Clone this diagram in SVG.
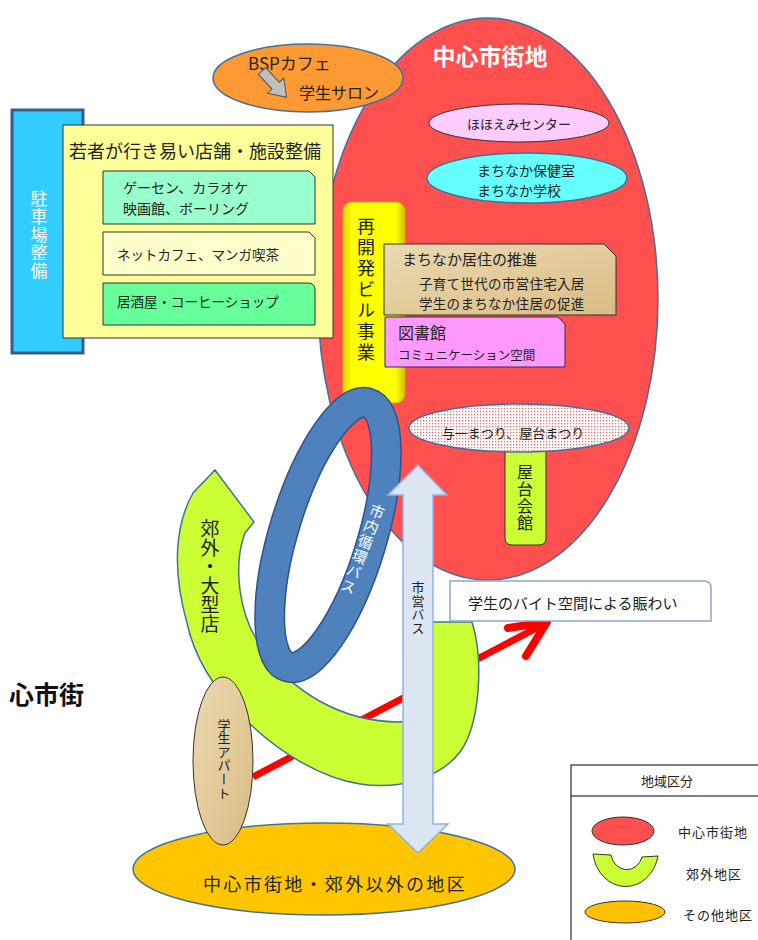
<svg xmlns="http://www.w3.org/2000/svg" width="758" height="940" viewBox="0 0 758 940">
<defs>
<style>
text{font-family:"Noto Sans CJK JP","Noto Sans",sans-serif;fill:#222;dominant-baseline:central}
.ol{stroke:#41719C;stroke-width:1.5}
.dk{stroke:#333;stroke-width:1}
.v{writing-mode:vertical-rl;text-anchor:middle}
.c{text-anchor:middle}
</style>
<pattern id="dots" width="3" height="3" patternUnits="userSpaceOnUse"><rect width="3" height="3" fill="#fff"/><rect width="1.3" height="1.3" fill="#F07070"/></pattern>
<linearGradient id="tan" x1="0" y1="0" x2="1" y2="1"><stop offset="0" stop-color="#EBD9B2"/><stop offset="0.5" stop-color="#E3CB9A"/><stop offset="1" stop-color="#D8BB86"/></linearGradient>
<linearGradient id="yel" x1="0" x2="1"><stop offset="0" stop-color="#E0D400"/><stop offset="0.15" stop-color="#FFFF00"/><stop offset="0.85" stop-color="#FFFF00"/><stop offset="1" stop-color="#CFC000"/></linearGradient>
</defs>

<g id="central-area">
<ellipse cx="488" cy="299" rx="170" ry="281" fill="#FF5050" class="ol"/>
<text x="490" y="55" class="c" style="fill:#fff;font-size:23px;font-weight:bold">中心市街地</text>
</g>

<g id="bsp-cafe">
<ellipse cx="308" cy="78" rx="95" ry="34" fill="#FF9933" class="ol"/>
<text x="248" y="62" style="font-size:17px">BSPカフェ</text>
<path d="M0,-5 L20,-5 L20,-11 L36,0 L20,11 L20,5 L0,5 Z" transform="translate(262,71) rotate(47)" fill="#BFBFBF" stroke="#555" stroke-width="1"/>
<text x="299" y="92" style="font-size:16px">学生サロン</text>
</g>

<g id="parking">
<rect x="12" y="110" width="71" height="243" fill="#33CCFF" stroke="#385D8A" stroke-width="3"/>
<text x="39" y="235" class="v" style="fill:#fff;font-size:17px;letter-spacing:1px">駐車場整備</text>
</g>

<g id="shops">
<rect x="63" y="125" width="270" height="213" fill="#FFFF99" class="dk"/>
<text x="69" y="150" style="font-size:18px">若者が行き易い店舗・施設整備</text>
<path d="M103 171 H309 L315 177 V224 H103 Z" fill="#99FFCC" class="dk"/>
<text x="123" y="187" style="font-size:14px">ゲーセン、カラオケ</text>
<text x="123" y="208" style="font-size:14px">映画館、ボーリング</text>
<path d="M103 232 H309 L315 238 V275 H103 Z" fill="#FFFFCC" class="dk"/>
<text x="117" y="254" style="font-size:13.5px">ネットカフェ、マンガ喫茶</text>
<path d="M103 283 H308 Q315 283 315 290 V325 H103 Z" fill="#66FF99" class="dk"/>
<text x="117" y="301" style="font-size:13.5px">居酒屋・コーヒーショップ</text>
</g>

<g id="hohoemi">
<ellipse cx="519" cy="123" rx="90" ry="19" fill="#FFCCFF" class="dk"/>
<text x="519" y="123" class="c" style="font-size:13px">ほほえみセンター</text>
</g>

<g id="machinaka-school">
<ellipse cx="527" cy="178" rx="100" ry="25" fill="#66FFFF" class="ol"/>
<text x="477" y="170" style="font-size:14px">まちなか保健室</text>
<text x="477" y="190" style="font-size:14px">まちなか学校</text>
</g>

<g id="redevelopment">
<rect x="343" y="202" width="62" height="201" rx="9" fill="url(#yel)" stroke="#C8B400" stroke-width="1"/>
<text x="366" y="291" class="v" style="font-size:18px;letter-spacing:3px">再開発ビル事業</text>
</g>

<g id="residence">
<path d="M384 244 H604 L616 256 V315 H384 Z" fill="url(#tan)" class="dk"/>
<text x="402" y="258" style="font-size:15px">まちなか居住の推進</text>
<text x="419" y="283" style="font-size:13.5px;letter-spacing:0.3px">子育て世代の市営住宅入居</text>
<text x="419" y="303" style="font-size:13.5px;letter-spacing:0.3px">学生のまちなか住居の促進</text>
</g>

<g id="library">
<path d="M385 317 H558 L565 324 V367 H385 Z" fill="#FF99FF" class="dk"/>
<text x="398" y="332" style="font-size:16px">図書館</text>
<text x="398" y="354" style="font-size:12.5px">コミュニケーション空間</text>
</g>

<g id="yatai-kaikan">
<path d="M505 440 H546 V538 Q546 545 539 545 H512 Q505 545 505 538 Z" fill="#CCFF33" class="dk"/>
<text x="525" y="498" class="v" style="font-size:16px;letter-spacing:1px">屋台会館</text>
</g>

<g id="festival">
<ellipse cx="519" cy="428" rx="110" ry="24" fill="url(#dots)" class="ol"/>
<text x="513" y="432" class="c" style="font-size:13px">与一まつり、屋台まつり</text>
</g>

<g id="connectors">
<line x1="253" y1="777" x2="544" y2="624" stroke="#FF0000" stroke-width="7"/>
<polyline points="508,628 547,622 526,656" fill="none" stroke="#FF0000" stroke-width="8" stroke-linecap="round" stroke-linejoin="round"/>
</g>

<g id="suburb">
<path d="M 215 470 L 254 522 L 245 533 C 233 565 238 615 262 648 C 290 690 340 722 400 722 C 415 722 425 690 425 622 L 472 622 C 484 660 480 725 460 752 C 440 778 400 790 360 784 C 320 778 275 750 243 717 C 215 690 195 660 187 623 C 172 570 175 525 193 493 Z" fill="#CCFF33" class="ol"/>
<text x="210" y="576" class="v" style="font-size:19px">郊外・大型店</text>
</g>

<g id="loop-bus">
<ellipse cx="328" cy="535" rx="44" ry="138" transform="rotate(17 328 535)" fill="none" stroke="#2F528F" stroke-width="31"/>
<ellipse cx="328" cy="535" rx="44" ry="138" transform="rotate(17 328 535)" fill="none" stroke="#4F81BD" stroke-width="28"/>
<g transform="translate(362.5,549.5) rotate(21)">
<text x="0" y="0" class="v" style="fill:#fff;font-size:15px;letter-spacing:1px">市内循環バス</text>
</g>
</g>

<g id="other-area">
<ellipse cx="324" cy="869" rx="191" ry="46" fill="#FFC600" class="ol"/>
<text x="335" y="883" class="c" style="font-size:18px;letter-spacing:2.3px">中心市街地・郊外以外の地区</text>
</g>

<g id="student-apartment">
<ellipse cx="223" cy="761" rx="30" ry="84" fill="url(#tan)" class="dk"/>
<text x="224" y="759" class="v" style="font-size:13px;letter-spacing:0.6px">学生アパート</text>
</g>

<g id="city-bus">
<path d="M 418 465 L 447 495 L 433 495 L 433 824 L 448 824 L 418 853 L 388 824 L 403 824 L 403 495 L 388 495 Z" fill="#DCE6F2" stroke="#8EB4E3" stroke-width="1.5"/>
<text x="418" y="608" class="v" style="font-size:13px;letter-spacing:0.7px">市営バス</text>
</g>

<g id="student-job">
<path d="M450 581 H704 Q711 581 711 588 V621 H450 Z" fill="#fff" stroke="#8EA7C8" stroke-width="1.5"/>
<text x="468" y="602" style="font-size:15px">学生のバイト空間による賑わい</text>
</g>

<g id="cut-label">
<text x="9" y="693" style="font-size:25px;font-weight:bold;fill:#111">心市街</text>
</g>

<g id="legend">
<rect x="571" y="765" width="200" height="190" fill="#fff" stroke="#000" stroke-width="1"/>
<line x1="571" y1="796" x2="758" y2="796" stroke="#000" stroke-width="1"/>
<text x="667" y="780" class="c" style="font-size:13px">地域区分</text>
<ellipse cx="623" cy="831" rx="31" ry="14" fill="#FF5050" class="dk"/>
<text x="678" y="831" style="font-size:13px;letter-spacing:1px">中心市街地</text>
<path d="M 593 854 A 33 38 0 0 0 658 856 L 642 857 A 16 18 0 0 1 611 855 Z" fill="#CCFF33" class="dk"/>
<text x="686" y="873" style="font-size:13px;letter-spacing:1px">郊外地区</text>
<ellipse cx="625" cy="912" rx="40" ry="11" fill="#FFC000" class="dk"/>
<text x="683" y="914" style="font-size:13px;letter-spacing:1px">その他地区</text>
</g>
</svg>
